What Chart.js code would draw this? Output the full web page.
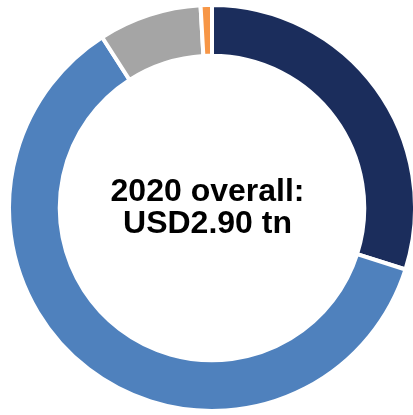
<!DOCTYPE html>
<html lang="en">

<head>
    <meta charset="UTF-8">
    <title>2020 overall</title>
    <script src="https://cdn.jsdelivr.net/npm/chart.js"></script>
    <style>
        * {
            margin: 0;
            padding: 0;
            box-sizing: border-box;
        }

        body {
            width: 413px;
            height: 415px;
            overflow: hidden;
            background: #fff;
            position: relative;
        }

        .chart-box {
            position: absolute;
            left: 7px;
            top: 3px;
            width: 410px;
            height: 410px;
        }

        /* centre label */
        .center-label {
            position: absolute;
            left: 67px;
            top: 174px;
            width: 281px;
            text-align: center;
            font-family: 'Liberation Sans', Arial, sans-serif;
            font-weight: bold;
            font-size: 32px;
            line-height: 32px;
            color: #000;
        }
    </style>
</head>

<body>
    <div class="chart-box">
        <canvas id="donut"></canvas>
    </div>
    <div class="center-label">2020 overall:<br>USD2.90 tn</div>

    <script>
        // share of 2020 total, per cent
        const segments = ['Segment A', 'Segment B', 'Segment C', 'Segment D'];
        const shares = [29.9, 61.0, 8.2, 0.9];
        const colours = ['#1b2d5c', '#4f81bd', '#a5a5a5', '#f79646'];

        const ctx = document.getElementById('donut').getContext('2d');
        new Chart(ctx, {
            type: 'doughnut',
            data: {
                labels: segments,
                datasets: [{
                    data: shares,
                    backgroundColor: colours,
                    borderColor: '#ffffff',
                    borderWidth: 4
                }]
            },
            options: {
                responsive: true,
                maintainAspectRatio: false,
                animation: false,
                cutout: '75%',
                plugins: {
                    legend: { display: false },
                    tooltip: { enabled: false }
                }
            }
        });
    </script>
</body>

</html>
